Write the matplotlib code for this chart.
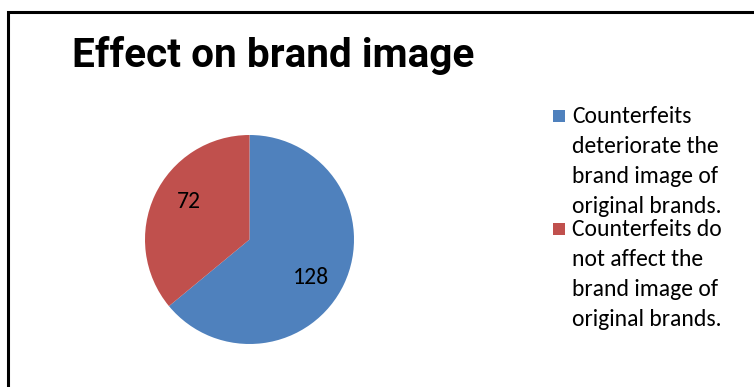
import matplotlib
matplotlib.use("Agg")
import numpy as np
import matplotlib.pyplot as plt
from matplotlib.patches import Rectangle

# data
labels = [
    "Counterfeits deteriorate the brand image of original brands.",
    "Counterfeits do not affect the brand image of original brands.",
]
label_lines = [
    ["Counterfeits", "deteriorate the", "brand image of", "original brands."],
    ["Counterfeits do", "not affect the", "brand image of", "original brands."],
]
values = [128, 72]
colors = ["#4F81BD", "#C0504D"]
title = "Effect on brand image"

BODY_FONT = ["Carlito", "Lato", "DejaVu Sans"]
TITLE_FONT = ["Roboto", "DejaVu Sans"]

W, H = 754, 387
fig = plt.figure(figsize=(W / 100, H / 100), dpi=100)
fig.patch.set_facecolor("white")


def fx(px):
    return px / W


def fy(py):
    return 1 - py / H


# outer chart frame (only top and left edge visible)
frame = Rectangle((fx(8), fy(500)), fx(900), fy(12) - fy(500), transform=fig.transFigure,
                  fill=False, edgecolor="black", linewidth=2.2, clip_on=False)
fig.add_artist(frame)

# title
fig.text(fx(72), fy(67), title, fontsize=29.2, fontweight="bold",
         family=TITLE_FONT, ha="left", va="baseline")

# pie
cx, cy, r = 249.5, 239.5, 104.5
ax = fig.add_axes([fx(cx - r), fy(cy + r), fx(2 * r), fy(cy - r) - fy(cy + r)])
wedges, texts = ax.pie(values, colors=colors, startangle=90, counterclock=False,
                       labels=[str(v) for v in values], labeldistance=0.69,
                       wedgeprops=dict(linewidth=0),
                       textprops=dict(fontsize=17, family=BODY_FONT, color="black",
                                      ha="center", va="center"))
# Excel nudges the data labels a few degrees clockwise of the wedge middle
for w, t in zip(wedges, texts):
    mid = np.deg2rad((w.theta1 + w.theta2) / 2 - 7)
    t.set_position((0.69 * np.cos(mid), 0.69 * np.sin(mid)))
ax.set_xlim(-1, 1)
ax.set_ylim(-1, 1)
ax.set_aspect("equal")
ax.axis("off")

# legend, drawn by hand to keep Excel's wrapped look
first_baselines = [123, 236]
line_gap = 30
for color, lines, base in zip(colors, label_lines, first_baselines):
    sq = 12
    fig.add_artist(Rectangle((fx(553), fy(base - 1)), fx(sq), fy(base - 1 - sq) - fy(base - 1),
                             transform=fig.transFigure, facecolor=color, edgecolor="none"))
    for i, line in enumerate(lines):
        fig.text(fx(572), fy(base + i * line_gap), line, fontsize=17,
                 family=BODY_FONT, ha="left", va="baseline")

fig.savefig("out.png", dpi=100)
